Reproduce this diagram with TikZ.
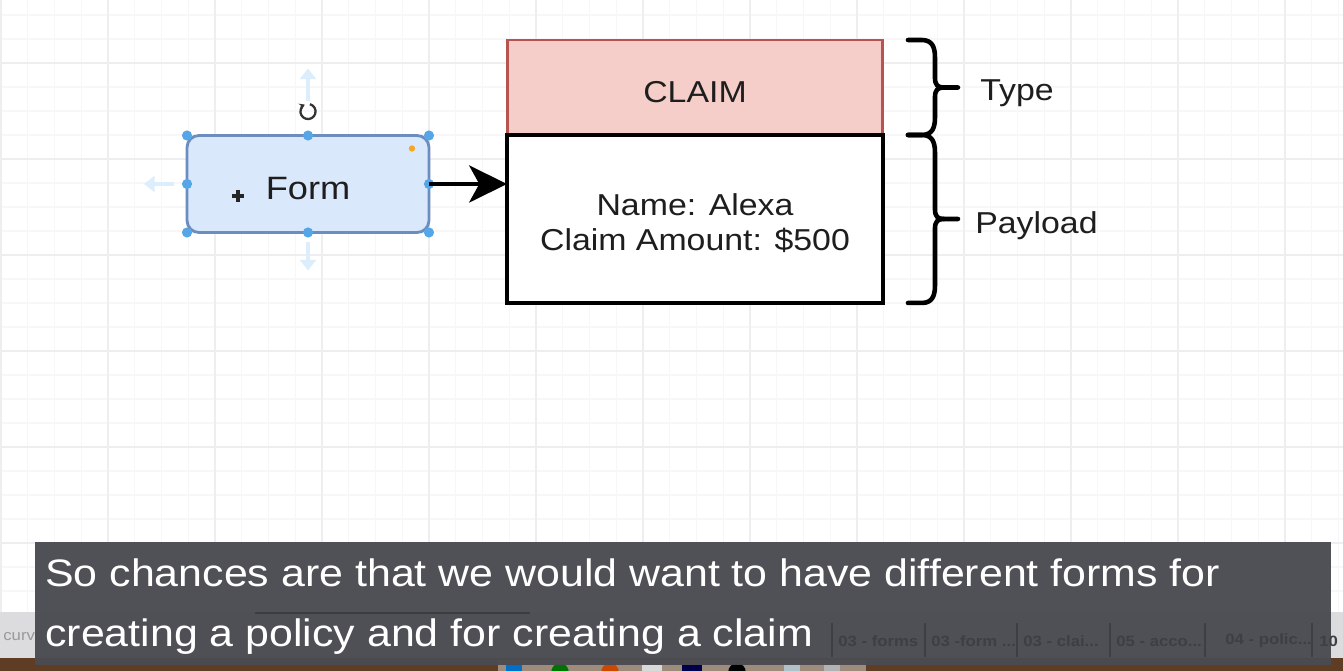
\documentclass[tikz,border=0pt]{standalone}
\usepackage{fontspec}
\setmainfont{Liberation Sans}[FakeStretch=1.12]
\usetikzlibrary{arrows.meta, positioning, calc}
\definecolor{gridminor}{HTML}{F7F7F9}
\definecolor{gridmajor}{HTML}{EEEEF1}
\definecolor{formfill}{HTML}{DAE8FC}
\definecolor{formline}{HTML}{6C8EBF}
\definecolor{typefill}{HTML}{F5CEC9}
\definecolor{typeline}{HTML}{B85450}
\definecolor{handleblue}{HTML}{55A6E6}
\definecolor{hoverblue}{HTML}{DCEEFB}
\definecolor{dotorange}{HTML}{F5A623}
\definecolor{barcolor}{HTML}{4B4C51}
\definecolor{taskgray}{HTML}{DCDCDE}
\definecolor{tabtext}{HTML}{3E3F44}
\definecolor{deskbrown}{HTML}{5E3D24}
\definecolor{inktext}{HTML}{1E1E1E}
\tikzset{
    formbox/.style={
        rectangle, draw=formline, fill=formfill, line width=1.6pt, rounded corners=6.8pt,
        minimum width=4.84cm, minimum height=1.94cm, outer sep=0pt, text=inktext,
        text height=17.2pt, text depth=0pt, font=\fontsize{18.4}{21}\selectfont
    },
    typebox/.style={
        rectangle, draw=typeline, fill=typefill, line width=1.7pt,
        minimum width=7.52cm, minimum height=1.9cm, outer sep=0pt, text=inktext,
        text height=16.9pt, text depth=0pt, font=\fontsize{17.2}{20}\selectfont
    },
    payloadbox/.style={
        rectangle, draw, fill=white, line width=2.3pt,
        minimum width=7.52cm, minimum height=3.36cm, outer sep=0pt
    },
    payloadtext/.style={align=center, inner sep=0pt, text=inktext, font=\fontsize{17.2}{19.8}\selectfont},
    handle/.style={circle, fill=handleblue, inner sep=0pt, minimum size=5.8pt},
    hover/.style={-{Triangle[length=6pt, width=9pt]}, line width=1.8pt, hoverblue},
    arrow/.style={-{Stealth[length=21.5pt, width=21pt, inset=5.7pt]}, line width=2.8pt},
    curly/.style={line width=2.6pt, line join=round, line cap=round},
    sidelabel/.style={anchor=west, inner sep=0pt, text=inktext, font=\fontsize{17.2}{20}\selectfont},
    subline/.style={anchor=base west, inner sep=0pt, text=white, font=\fontsize{21.8}{24}\selectfont},
    tablabel/.style={anchor=west, inner sep=0pt, text=tabtext, font=\fontsize{8.5}{10}\selectfont\bfseries}
}

\begin{document}
\begin{tikzpicture}[x=0.02cm, y=-0.02cm]

% Canvas and grid
\useasboundingbox (0,0) rectangle (1343,671);
\fill[white] (0,0) rectangle (1343,671);
\foreach \i in {0,...,50}
    \draw[gridminor, line width=0.6pt] (1+26.75*\i,0) -- (1+26.75*\i,671);
\foreach \j in {0,...,27}
    \draw[gridminor, line width=0.6pt] (0,15+24*\j) -- (1343,15+24*\j);
\foreach \i in {0,...,12}
    \draw[gridmajor, line width=0.7pt] (1+107*\i,0) -- (1+107*\i,671);
\foreach \j in {0,...,5}
    \draw[gridmajor, line width=0.7pt] (0,63+96*\j) -- (1343,63+96*\j);

% Selected form shape
\node[formbox] (form) at (308,184) {Form};
\foreach \a in {north west, north, north east, west, east, south west, south, south east}
    \node[handle] at (form.\a) {};
\fill[dotorange] ($(form.north east)+(-17,13)$) circle (1.8pt);
\coordinate (cursor) at ($(form.center)+(-70,12)$);
\draw[black!85, line width=1.8pt] ($(cursor)+(-6,0)$) -- ($(cursor)+(6,0)$);
\draw[black!85, line width=1.8pt] ($(cursor)+(0,-6)$) -- ($(cursor)+(0,6)$);

% Hover arrows and rotate icon
\draw[hover] ($(form.north)+(0,-35)$) -- ++(0,-32);
\draw[hover] ($(form.south)+(0,10)$) -- ++(0,28);
\draw[hover] ($(form.west)+(-13,0)$) -- ++(-30,0);
\coordinate (rot) at ($(form.north)+(0,-24)$);
\draw[black!80, line width=1.3pt, -{Stealth[length=3pt, width=4pt]}]
    ([shift={(75:4.3pt)}]rot) arc[start angle=75, end angle=-245, radius=4.3pt];

% Message boxes
\node[typebox] (claim) at (695,87.5) {CLAIM};
\node[payloadbox, below=0pt of claim] (payload) {};
\node[payloadtext] (details) at ($(payload.center)+(0,4)$) {Name: Alexa\\Claim Amount: \$500};

% Form to message
\draw[arrow] (form.east) -- (form.east -| payload.west);

% Braces and labels
\foreach \n in {claim, payload} {
    \coordinate (t) at ($(\n.north east)+(25,0)$);
    \coordinate (m) at ($(\n.east)+(25,0)$);
    \coordinate (b) at ($(\n.south east)+(25,0)$);
    \draw[curly] (t) -- ++(14,0) .. controls +(10,0) and +(0,-10) .. ($(t)+(27,17)$)
        -- ($(m)+(27,-10)$) .. controls +(0,8) and +(-6,0) .. ($(m)+(36,0)$) -- ($(m)+(50,0)$);
    \draw[curly] ($(m)+(36,0)$) .. controls +(-6,0) and +(0,-8) .. ($(m)+(27,10)$)
        -- ($(b)+(27,-17)$) .. controls +(0,10) and +(10,0) .. ($(b)+(14,0)$) -- (b);
}
\node[sidelabel] (type) at ($(claim.east)+(97,6)$) {Type};
\node[sidelabel] (load) at ($(payload.east)+(92,7)$) {Payload};

% Taskbar and desktop behind the caption
\fill[taskgray] (0,612) rectangle (1343,658);
\node[anchor=west, inner sep=0pt, text=black!40, font=\fontsize{8.5}{10}\selectfont] (curv) at (3,637) {curve};
\fill[deskbrown] (0,658) rectangle (1343,671);
\fill[deskbrown!60!white] (498,660) rectangle (866,671);
\fill[blue!45!cyan!80!black] (506,664) rectangle (522,671);
\fill[green!45!black] (560,672) circle (5pt);
\fill[orange!70!red!80!black] (610,672) circle (5pt);
\fill[gray!30] (642,665) rectangle (662,671);
\fill[blue!30!black] (682,665) rectangle (702,671);
\fill[black] (737,672) circle (5pt);
\fill[cyan!20!gray!60] (784,664) rectangle (800,671);
\fill[gray!60] (824,665) rectangle (840,671);

% Caption
\fill[barcolor, opacity=0.97] (35,542) rectangle (1331,665);
\draw[barcolor!80!black, line width=1.6pt] (255,613) -- (530,613);
\foreach \x in {832,925,1017,1110,1205,1312}
    \draw[tabtext, line width=0.6pt] (\x,623) -- (\x,657);
\node[tablabel] (tab1) at (838,641) {03 - forms};
\node[tablabel] (tab2) at (931,641) {03 -form ...};
\node[tablabel] (tab3) at (1023,641) {03 - clai...};
\node[tablabel] (tab4) at (1116,641) {05 - acco...};
\node[tablabel] (tab5) at (1225,641) {04 - polic...};
\node[tablabel] (tab6) at (1319,641) {10};
\node[subline] (line1) at (45,587) {So chances are that we would want to have different forms for};
\node[subline] (line2) at (45,647) {creating a policy and for creating a claim};

\end{tikzpicture}
\end{document}
